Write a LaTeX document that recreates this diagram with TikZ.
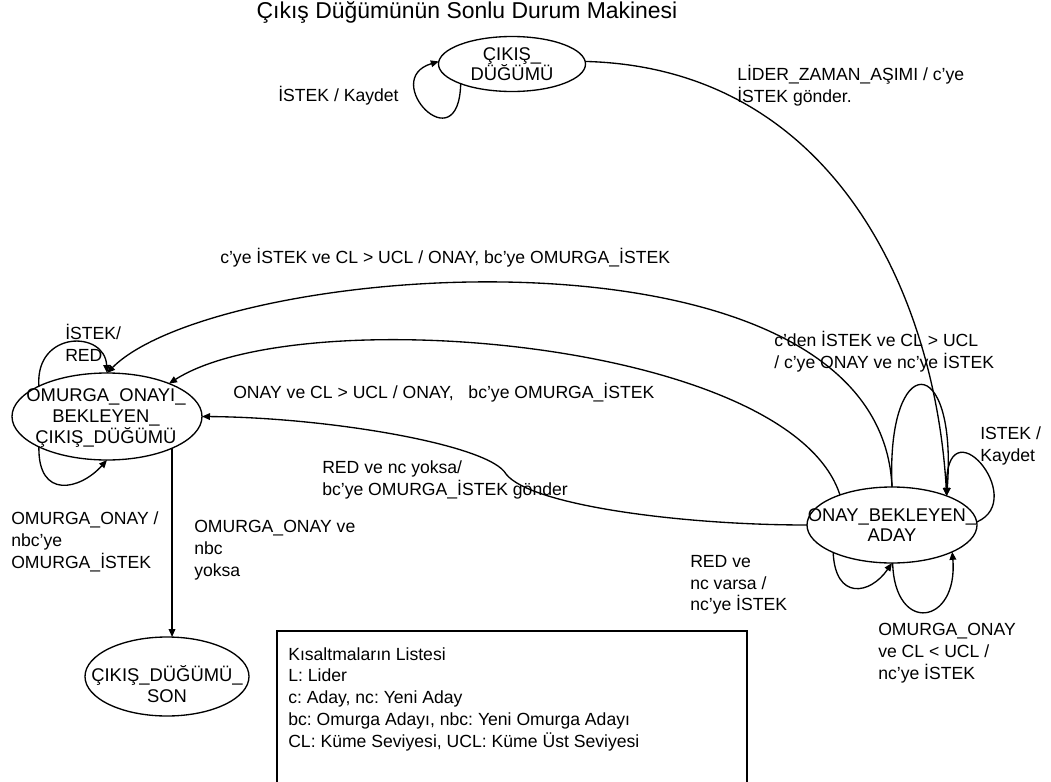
\documentclass[tikz,border=0pt]{standalone}
\usepackage{fontspec}
\setmainfont{Liberation Sans}
\usetikzlibrary{shapes.geometric, arrows.meta}
\frenchspacing
\begin{document}
\begin{tikzpicture}[x=0.75pt, y=-0.75pt,
  state/.style={draw, ellipse, line width=1pt, inner sep=0pt, outer sep=0pt},
  statetext/.style={align=center, inner sep=0pt, font=\fontsize{13.8}{15.5}\selectfont},
  lbl/.style={align=left, inner sep=0pt, anchor=west, font=\fontsize{13.2}{16.3}\selectfont},
  trans/.style={line width=1pt, -{Triangle[length=6pt,width=5pt]}},
]
\useasboundingbox[fill=white] (0,0) rectangle (1051,782);

% title
\node[inner sep=0pt, font=\fontsize{17.2}{20}\selectfont] (title) at (467,12) {Çıkış Düğümünün Sonlu Durum Makinesi};

% states
\node[state, minimum width=110.25pt, minimum height=41.25pt] (cikis) at (512,64) {};
\node[statetext] (cikistext) at (512,64) {ÇIKIŞ\_\\DÜĞÜMÜ};

\node[state, minimum width=142.5pt, minimum height=65.25pt] (omurga) at (107,416.5) {};
\node[statetext] (omurgatext) at (106,418) {OMURGA\_ONAYI\_\\BEKLEYEN\_\\ÇIKIŞ\_DÜĞÜMÜ};

\node[state, minimum width=127.5pt, minimum height=57pt] (onay) at (892,525) {};
\node[statetext] (onaytext) at (892,525) {ONAY\_BEKLEYEN\_\\ADAY};

\node[state, minimum width=123pt, minimum height=59.25pt] (son) at (167,676.5) {};
\node[statetext] (sontext) at (167,684) {ÇIKIŞ\_DÜĞÜMÜ\_\\SON};

% legend
\node[draw, line width=1.3pt, anchor=north west, minimum width=352.5pt, minimum height=150pt, inner sep=0pt, outer sep=0pt] (legend) at (277,631) {};
\node[lbl] (legendtext) at (288,699) {Kısaltmaların Listesi\\L: Lider\\c: Aday, nc: Yeni Aday\\bc: Omurga Adayı, nbc: Yeni Omurga Adayı\\CL: Küme Seviyesi, UCL: Küme Üst Seviyesi};

% transitions from ÇIKIŞ_DÜĞÜMÜ
\draw[trans] (cikis.201) .. controls +(-2,81) and +(-60,18) .. (cikis.178);
\draw[trans] (cikis.2) .. controls +(245,6) and +(-12,-206) .. (onay.28);

% transitions from ONAY_BEKLEYEN_ADAY
\draw[trans] (onay.90) .. controls +(-12,-277) and +(113,-113) .. (omurga.90);
\draw[trans] (onay.150) .. controls +(-50,-155) and +(131,-83.5) .. (omurga.28);
\coordinate (redbend) at (506,474);
\draw[trans] (onay.180) .. controls +(-127,0) and +(24,31) .. (redbend)
  .. controls +(-16,-29) and +(128,1) .. (omurga.0);
\draw[trans] (onay.2) .. controls +(53,-23) and +(-2,-96) .. (onay.28);
\draw[trans] (onay.90) .. controls +(-6,-137) and +(11,-146) .. (onay.28);
\draw[trans] (onay.205) .. controls +(2,48) and +(-22,32) .. (onay.270);
\draw[trans] (onay.271) .. controls +(2,72) and +(6,73) .. (onay.336);

% transitions from OMURGA_ONAYI_BEKLEYEN_ÇIKIŞ_DÜĞÜMÜ
\draw[trans] (omurga.156) .. controls +(-4,-56) and +(-2,-43) .. (omurga.90);
\draw[trans] (omurga.204) .. controls +(-1,53) and +(-27,30) .. (omurga.270);
\draw[trans] (omurga.334) -- (omurga.334 |- son.north);

% transition labels
\node[lbl] (l1) at (278,96) {İSTEK / Kaydet};
\node[lbl] (l2) at (737,86) {LİDER\_ZAMAN\_AŞIMI / c'ye\\İSTEK gönder.};
\node[lbl] (l3) at (220,258) {c'ye İSTEK ve CL > UCL / ONAY, bc'ye OMURGA\_İSTEK};
\node[lbl] (l4) at (774,352) {c'den İSTEK ve CL > UCL\\/ c'ye ONAY ve nc'ye İSTEK};
\node[lbl] (l5) at (65,343) {İSTEK/\\RED};
\node[lbl] (l6) at (233,393) {ONAY ve CL > UCL / ONAY,\ \ \ bc'ye OMURGA\_İSTEK};
\node[lbl] (l7) at (980,446) {ISTEK /\\Kaydet};
\node[lbl] (l8) at (322,480) {RED ve nc yoksa/\\bc'ye OMURGA\_İSTEK gönder};
\node[lbl] (l9) at (11,542) {OMURGA\_ONAY /\\nbc'ye\\OMURGA\_İSTEK};
\node[lbl] (l10) at (194,550) {OMURGA\_ONAY ve\\nbc\\yoksa};
\node[lbl] (l11) at (690,585) {RED ve\\nc varsa /\\nc'ye İSTEK};
\node[lbl] (l12) at (878,653) {OMURGA\_ONAY\\ve CL < UCL /\\nc'ye İSTEK};
\end{tikzpicture}
\end{document}
